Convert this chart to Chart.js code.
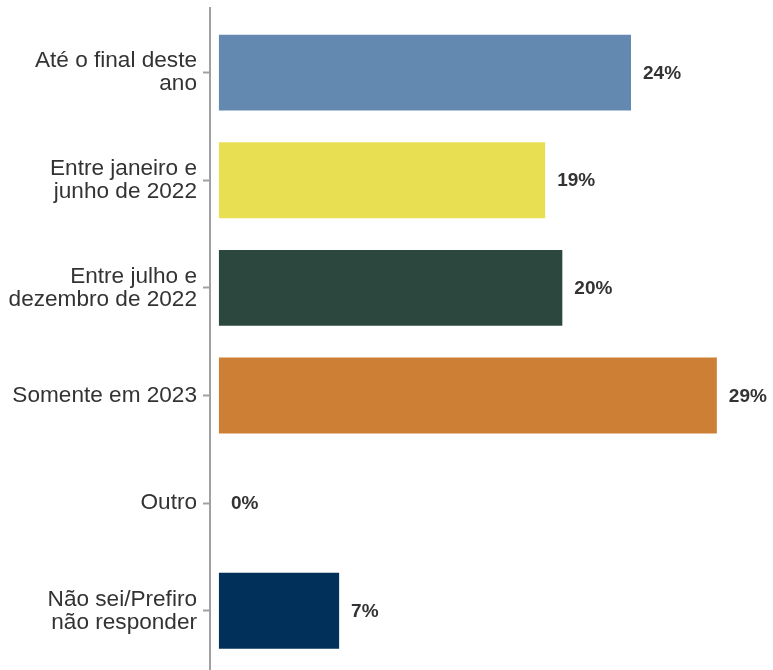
<!DOCTYPE html>
<html>
<head>
<meta charset="utf-8">
<script src="https://cdn.jsdelivr.net/npm/chart.js@4"></script>
<style>
  html, body { margin: 0; padding: 0; background: #fff; }
  #wrap { width: 773px; height: 670px; }
</style>
</head>
<body>
<div id="wrap"><canvas id="chart"></canvas></div>
<script>
// data
const categories = [
    ['Até o final deste', 'ano'],
    ['Entre janeiro e', 'junho de 2022'],
    ['Entre julho e', 'dezembro de 2022'],
    ['Somente em 2023'],
    ['Outro'],
    ['Não sei/Prefiro', 'não responder']
];
const values = [24, 19, 20, 29, 0, 7];
const valueLabels = ['24%', '19%', '20%', '29%', '0%', '7%'];
const barColors = ['#6489b1', '#e9df52', '#2c483e', '#cd8035', '#8a8a8a', '#01305a'];

// value labels next to each bar
const valueLabelPlugin = {
    id: 'valueLabels',
    afterDatasetsDraw(chart) {
        const ctx = chart.ctx;
        const meta = chart.getDatasetMeta(0);
        ctx.save();
        ctx.font = 'bold 19px "Liberation Sans", Arial, sans-serif';
        ctx.fillStyle = '#333333';
        ctx.textAlign = 'left';
        ctx.textBaseline = 'middle';
        meta.data.forEach((bar, i) => {
            ctx.fillText(valueLabels[i], bar.x + 12, bar.y + 1);
        });
        ctx.restore();
    }
};

const ctx = document.getElementById('chart').getContext('2d');
new Chart(ctx, {
    type: 'bar',
    data: {
        datasets: [{
            data: values.map((v, i) => ({ x: v, y: i })),
            backgroundColor: barColors,
            borderWidth: 0,
            barPercentage: 0.705,
            categoryPercentage: 1
        }]
    },
    options: {
        indexAxis: 'y',
        responsive: true,
        maintainAspectRatio: false,
        animation: false,
        layout: { padding: { top: 8 } },
        plugins: {
            legend: { display: false },
            tooltip: { enabled: false }
        },
        scales: {
            x: {
                type: 'linear',
                display: false,
                min: -0.52,
                max: 32.27
            },
            y: {
                type: 'linear',
                reverse: true,
                offset: false,
                min: -0.6,
                max: 5.55,
                afterBuildTicks: (scale) => {
                    scale.ticks = categories.map((_, i) => ({ value: i }));
                },
                afterFit: (scale) => {
                    scale.width = 210;
                    // labels already fit inside, no extra room needed
                    scale.paddingTop = 0;
                    scale.paddingBottom = 0;
                },
                ticks: {
                    callback: (v) => categories[v],
                    color: '#333333',
                    padding: 6,
                    font: { family: '"Liberation Sans", Arial, sans-serif', size: 22.6, lineHeight: 1.02 }
                },
                grid: {
                    offset: false,
                    drawOnChartArea: false,
                    drawTicks: true,
                    tickLength: 7,
                    tickWidth: 2,
                    color: '#a0a0a0'
                },
                border: { display: true, color: '#a0a0a0', width: 2 }
            }
        }
    },
    plugins: [valueLabelPlugin]
});
</script>
</body>
</html>
